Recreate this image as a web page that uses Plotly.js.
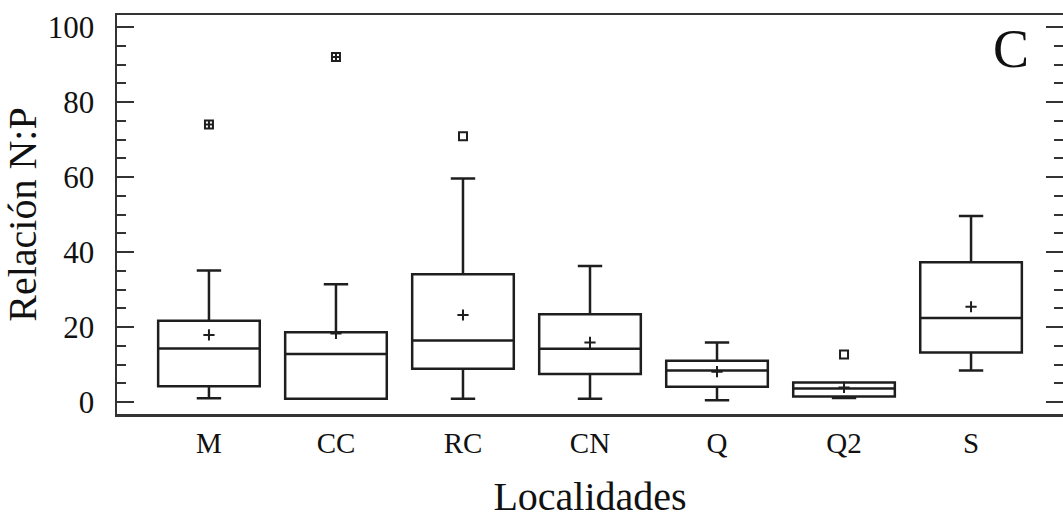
<!DOCTYPE html>
<html>
<head>
<meta charset="utf-8">
<script src="https://cdn.plot.ly/plotly-3.0.1.min.js"></script>
<style>html,body{margin:0;padding:0;background:#fff;}#chart{width:1063px;height:529px;}</style>
</head>
<body>
<div id="chart"></div>
<script>
var categories = ["M", "CC", "RC", "CN", "Q", "Q2", "S"];
var lowerWhisker = [1.0, 0.9, 0.9, 0.9, 0.45, 1.07, 8.4];
var q1Values = [4.2, 0.9, 8.9, 7.5, 4.1, 1.5, 13.2];
var medianValues = [14.3, 12.8, 16.4, 14.2, 8.4, 3.6, 22.4];
var q3Values = [21.7, 18.6, 34.1, 23.4, 11.0, 5.2, 37.3];
var upperWhisker = [35.1, 31.4, 59.6, 36.3, 15.9, 5.2, 49.6];
var meanValues = [17.9, 18.3, 23.2, 15.9, 8.1, 3.9, 25.4];
var outlierCats = ["M", "CC", "RC", "Q2"];
var outlierValues = [74.0, 92.0, 70.9, 12.7];
var outlierSymbols = ["square-cross-open", "square-cross-open", "square-open", "square-open"];
var yTicks = [0, 20, 40, 60, 80, 100];

var font = "Liberation Serif, Times New Roman, serif";
var ink = "#1e1e1e";

var traces = [
  {
    type: "box",
    x: categories,
    q1: q1Values,
    median: medianValues,
    q3: q3Values,
    lowerfence: lowerWhisker,
    upperfence: upperWhisker,
    boxpoints: false,
    width: 0.8,
    whiskerwidth: 0.24,
    fillcolor: "rgba(255,255,255,0)",
    line: {color: ink, width: 2.5},
    hoverinfo: "none",
    showlegend: false
  },
  {
    type: "scatter",
    mode: "markers",
    x: categories,
    y: meanValues,
    marker: {symbol: "cross-thin-open", size: 8, color: ink, line: {color: ink, width: 2}},
    hoverinfo: "none",
    showlegend: false
  },
  {
    type: "scatter",
    mode: "markers",
    x: outlierCats,
    y: outlierValues,
    marker: {symbol: outlierSymbols, size: 8, color: ink, line: {color: ink, width: 2}},
    hoverinfo: "none",
    showlegend: false
  }
];

var layout = {
  width: 1063,
  height: 529,
  margin: {l: 117, r: 0, t: 15, b: 115},
  paper_bgcolor: "#fff",
  plot_bgcolor: "#fff",
  font: {family: font, color: "#111"},
  showlegend: false,
  xaxis: {
    type: "category",
    categoryorder: "array",
    categoryarray: categories,
    range: [-0.724, 6.724],
    showgrid: false,
    zeroline: false,
    showline: true,
    mirror: true,
    linecolor: "#333",
    linewidth: 2.5,
    ticks: "",
    ticklabelstandoff: 2,
    tickfont: {family: font, size: 29, color: "#111"},
    title: {text: "Localidades", font: {family: font, size: 40, color: "#111"}, standoff: 24}
  },
  yaxis: {
    range: [-3.2, 103.2],
    tickvals: yTicks,
    ticktext: yTicks.map(String),
    showgrid: false,
    zeroline: false,
    showline: true,
    mirror: "ticks",
    linecolor: "#333",
    linewidth: 2.5,
    ticks: "inside",
    ticklen: 17,
    tickwidth: 2,
    tickcolor: "#333",
    minor: {ticks: "inside", ticklen: 9, tickwidth: 2, tickcolor: "#333", dtick: 5, tick0: 0, showgrid: false},
    ticklabelstandoff: 14,
    tickfont: {family: font, size: 31, color: "#111"},
    title: {text: "Relación N:P", font: {family: font, size: 40, color: "#111"}, standoff: 10}
  },
  annotations: [
    {
      xref: "paper", yref: "paper",
      x: 0.945, y: 0.915,
      xanchor: "center", yanchor: "middle",
      text: "C",
      showarrow: false,
      font: {family: font, size: 54, color: "#111"}
    }
  ]
};

Plotly.newPlot("chart", traces, layout, {displayModeBar: false, staticPlot: true});
</script>
</body>
</html>
